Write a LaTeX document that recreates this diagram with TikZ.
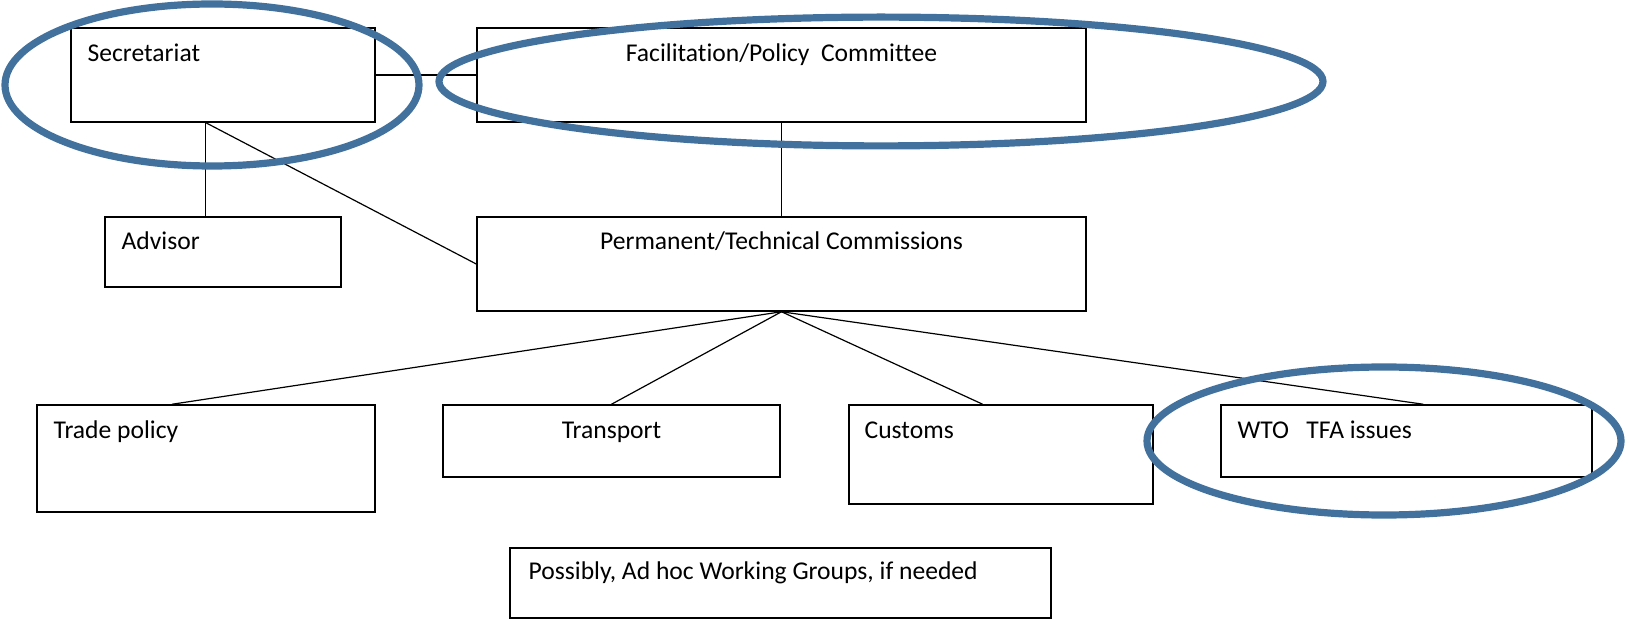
\documentclass[tikz,border=0pt]{standalone}
\usepackage{fontspec}
\setmainfont{Carlito}[Ligatures={NoCommon}]
\usetikzlibrary{calc}
\definecolor{ovalblue}{HTML}{41719C}
\tikzset{
  box/.style={draw=black, line width=0.75pt, fill=white, inner sep=0pt},
  lbl/.style={inner sep=0pt, font=\fontsize{12.8pt}{15pt}\selectfont},
  link/.style={draw=black, line width=0.6pt},
  oval/.style={draw=ovalblue, line width=3.6pt}
}
\begin{document}
\begin{tikzpicture}[x=0.5pt,y=-0.5pt]
\useasboundingbox (0,0) rectangle (1629,620);
% boxes
\node[box, minimum width=152pt, minimum height=47pt] (sec) at (223,75) {};
\node[box, minimum width=304.5pt, minimum height=47pt] (fac) at (781.5,75) {};
\node[box, minimum width=118pt, minimum height=35pt] (adv) at (223,252) {};
\node[box, minimum width=304.5pt, minimum height=47pt] (perm) at (781.5,264) {};
\node[box, minimum width=169pt, minimum height=53.5pt] (trade) at (206,458.5) {};
\node[box, minimum width=168.5pt, minimum height=36pt] (trans) at (611.5,441) {};
\node[box, minimum width=152pt, minimum height=49.5pt] (cust) at (1001,454.5) {};
\node[box, minimum width=185.5pt, minimum height=36pt] (wto) at (1406.5,441) {};
\node[box, minimum width=270.5pt, minimum height=35pt] (adhoc) at (780.5,583) {};
% texts
\node[lbl, anchor=base west] (secT) at ($(sec.north west)+(17,34)$) {Secretariat};
\node[lbl, anchor=base] (facT) at ($(fac.north)+(0,34)$) {Facilitation/Policy\ \ Committee};
\node[lbl, anchor=base west] (advT) at ($(adv.north west)+(17,33)$) {Advisor};
\node[lbl, anchor=base] (permT) at ($(perm.north)+(0,33)$) {Permanent/Technical Commissions};
\node[lbl, anchor=base west] (tradeT) at ($(trade.north west)+(17,34)$) {Trade policy};
\node[lbl, anchor=base] (transT) at ($(trans.north)+(0,34)$) {Transport};
\node[lbl, anchor=base west] (custT) at ($(cust.north west)+(16,34)$) {Customs};
\node[lbl, anchor=base west] (wtoT) at ($(wto.north west)+(17,34)$) {WTO\ \ \ TFA issues};
\node[lbl, anchor=base west] (adhocT) at ($(adhoc.north west)+(19,32)$) {Possibly, Ad hoc Working Groups, if needed};
% connector anchor points
\coordinate (secb) at ($(sec.south west)!0.444!(sec.south east)$);
\coordinate (tradet) at ($(trade.north west)!0.40!(trade.north east)$);
\coordinate (custt) at ($(cust.north west)!0.44!(cust.north east)$);
\coordinate (wtot) at ($(wto.north west)!0.545!(wto.north east)$);
% connectors
\draw[link] (sec.east) -- (fac.west);
\draw[link] (secb) -- (secb |- adv.north);
\draw[link] (secb) -- (perm.west);
\draw[link] (fac.south) -- (perm.north);
\draw[link] (perm.south) -- (tradet);
\draw[link] (perm.south) -- (trans.north);
\draw[link] (perm.south) -- (custt);
\draw[link] (perm.south) -- (wtot);
% highlight ovals
\draw[oval] (212,85) ellipse [x radius=103.5pt, y radius=40.5pt];
\draw[oval] (881,81.5) ellipse [x radius=221pt, y radius=32.2pt];
\draw[oval] (1384,441) ellipse [x radius=118.5pt, y radius=37pt];
\end{tikzpicture}
\end{document}
